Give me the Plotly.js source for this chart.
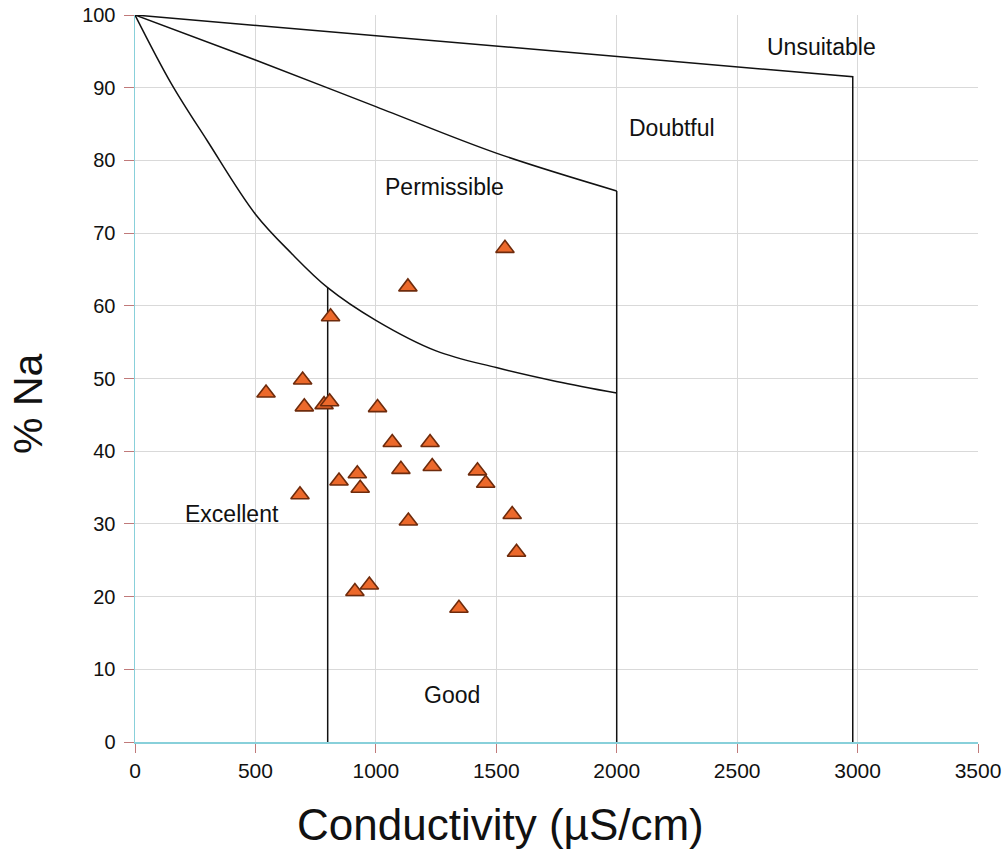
<!DOCTYPE html>
<html>
<head>
<meta charset="utf-8">
<script src="https://cdn.plot.ly/plotly-3.0.1.min.js"></script>
<style>html,body{margin:0;padding:0;background:#fff;}#chart{width:1008px;height:850px;}</style>
</head>
<body>
<div id="chart"></div>
<script>
// Sample points: conductivity (µS/cm) and % Na
const sampleEC = [1133, 812, 696, 544, 703, 785, 808, 1007, 1068, 1225, 1104, 1234, 1422, 1456, 923, 847, 935, 685, 1135, 1566, 1584, 973, 913, 1345, 1536];
const sampleNa = [62.6, 58.5, 49.8, 48.0, 46.1, 46.4, 46.8, 46.0, 41.2, 41.2, 37.5, 37.9, 37.3, 35.6, 36.9, 35.9, 34.9, 34.0, 30.4, 31.3, 26.1, 21.6, 20.7, 18.4, 67.9];

// Boundary lines of the Wilcox diagram
const goodCurveEC = [0, 150, 300, 500, 650, 800, 1000, 1250, 1500, 1750, 2000];
const goodCurveNa = [100, 90.6, 82.7, 72.6, 67.2, 62.5, 58.0, 53.8, 51.5, 49.6, 48.0];
const excellentLineEC = [800, 800];
const excellentLineNa = [62.5, 0];
const permissibleEC = [0, 500, 1000, 1500, 2000];
const permissibleNa = [100, 93.8, 87.4, 81.0, 75.8];
const permissibleDropEC = [2000, 2000];
const permissibleDropNa = [75.8, 0];
const doubtfulEC = [0, 2980, 2980];
const doubtfulNa = [100, 91.5, 0];

// Zone labels
const zoneLabels = ["Unsuitable", "Doubtful", "Permissible", "Excellent", "Good"];
const zoneEC = [2852, 2229, 1287, 403, 1316];
const zoneNa = [95.6, 84.5, 76.3, 31.4, 6.4];

const xTicks = [0, 500, 1000, 1500, 2000, 2500, 3000, 3500];
const yTicks = [0, 10, 20, 30, 40, 50, 60, 70, 80, 90, 100];

const lineStyle = {color: '#111111', width: 1.5};
const curveStyle = {color: '#111111', width: 1.5, shape: 'spline', smoothing: 1};
const traces = [
  {x: goodCurveEC, y: goodCurveNa, mode: 'lines', line: curveStyle, hoverinfo: 'skip'},
  {x: excellentLineEC, y: excellentLineNa, mode: 'lines', line: lineStyle, hoverinfo: 'skip'},
  {x: permissibleEC, y: permissibleNa, mode: 'lines', line: curveStyle, hoverinfo: 'skip'},
  {x: permissibleDropEC, y: permissibleDropNa, mode: 'lines', line: lineStyle, hoverinfo: 'skip'},
  {x: doubtfulEC, y: doubtfulNa, mode: 'lines', line: lineStyle, hoverinfo: 'skip'},
  {x: sampleEC, y: sampleNa, mode: 'markers',
   marker: {symbol: 'triangle-up', size: 16, color: '#ec692b', line: {color: '#6e2b0c', width: 1.6}}}
];

const annotations = zoneLabels.map((t, i) => ({
  x: zoneEC[i], y: zoneNa[i], xref: 'x', yref: 'y', text: t, showarrow: false,
  font: {family: 'Liberation Sans, Arial, sans-serif', size: 23, color: '#111'},
  xanchor: 'center', yanchor: 'middle'
}));
annotations.push({
  xref: 'paper', yref: 'paper', x: 0.434, y: -0.113, text: 'Conductivity (µS/cm)', showarrow: false,
  font: {family: 'Liberation Sans, Arial, sans-serif', size: 44, color: '#111'},
  xanchor: 'center', yanchor: 'middle'
});
annotations.push({
  xref: 'paper', yref: 'paper', x: -0.127, y: 0.465, text: '% Na', showarrow: false, textangle: -90,
  font: {family: 'Liberation Sans, Arial, sans-serif', size: 41, color: '#111'},
  xanchor: 'center', yanchor: 'middle'
});

const layout = {
  width: 1008, height: 850,
  margin: {l: 135, r: 30, t: 15, b: 108},
  paper_bgcolor: '#ffffff', plot_bgcolor: '#ffffff',
  showlegend: false,
  font: {family: 'Liberation Sans, Arial, sans-serif', color: '#111'},
  xaxis: {
    range: [0, 3500], tickvals: xTicks, ticktext: xTicks.map(String),
    showgrid: true, gridcolor: '#d9d9d9', gridwidth: 1, zeroline: false,
    showline: true, linecolor: '#88d0da', linewidth: 1.5,
    ticks: 'outside', ticklen: 9, tickcolor: '#c07a7a', tickwidth: 1,
    tickfont: {size: 21, color: '#111'}
  },
  yaxis: {
    range: [0, 100], tickvals: yTicks, ticktext: yTicks.map(String),
    showgrid: true, gridcolor: '#d9d9d9', gridwidth: 1, zeroline: false,
    showline: true, linecolor: '#88d0da', linewidth: 1.5,
    ticks: 'outside', ticklen: 10, tickcolor: '#c07a7a', tickwidth: 1,
    tickfont: {size: 20, color: '#111'}, ticklabelstandoff: 4
  },
  annotations: annotations
};

Plotly.newPlot('chart', traces, layout, {staticPlot: true, displayModeBar: false});
</script>
</body>
</html>
